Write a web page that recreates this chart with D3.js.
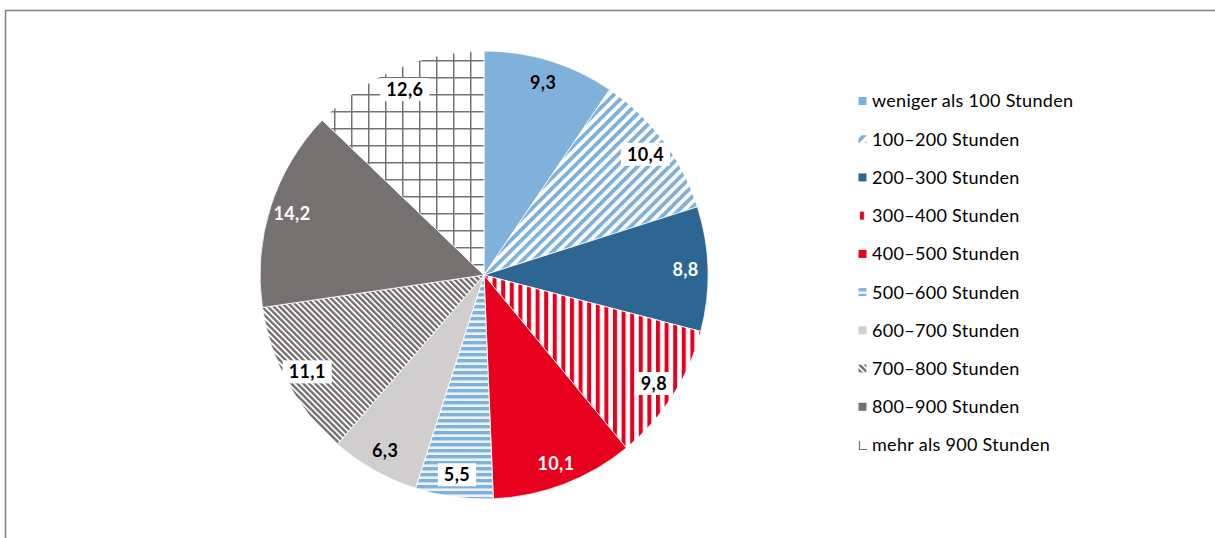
<!DOCTYPE html>
<html><head><meta charset="utf-8">
<script src="https://cdn.jsdelivr.net/npm/d3@7"></script>
<style>html,body{margin:0;padding:0;background:#fff;}svg{display:block;font-family:Lato,"Open Sans",sans-serif;}</style>
</head><body>
<script>
const categories = ["weniger als 100 Stunden","100–200 Stunden","200–300 Stunden","300–400 Stunden","400–500 Stunden","500–600 Stunden","600–700 Stunden","700–800 Stunden","800–900 Stunden","mehr als 900 Stunden"];
const values = [9.3,10.4,8.8,9.8,10.1,5.5,6.3,11.1,14.2,12.6];
const valueLabels = ["9,3","10,4","8,8","9,8","10,1","5,5","6,3","11,1","14,2","12,6"];

const W=1215,H=538;
const svg=d3.select("body").append("svg").attr("width",W).attr("height",H);
const defs=svg.append("defs");

const LB="#80b1da",DB="#2d6693",RED="#e8001f",LG="#d0cece",GR="#767171";
function stripe(id,period,band,color,bg,rot){
  const p=defs.append("pattern").attr("id",id).attr("patternUnits","userSpaceOnUse")
    .attr("width",period).attr("height",period).attr("patternTransform",`rotate(${rot})`);
  p.append("rect").attr("width",period).attr("height",period).attr("fill",bg);
  p.append("rect").attr("width",band).attr("height",period).attr("fill",color);
}
stripe("p1",7.5,3.8,LB,"#fff",45);
stripe("p3",8.6,4,RED,"#fff",0);
stripe("p5",6,3.4,LB,"#eaf2fa",90);
stripe("p7",4.2,2.4,GR,"#fff",-45);
{
  const p=defs.append("pattern").attr("id","p9").attr("patternUnits","userSpaceOnUse").attr("width",17).attr("height",17).attr("x",3).attr("y",6);
  p.append("rect").attr("width",17).attr("height",17).attr("fill","#fff");
  p.append("path").attr("d","M0.75,0V17M0,0.75H17").attr("stroke",GR).attr("stroke-width",1.5).attr("fill","none");
}
const fills=[LB,"url(#p1)",DB,"url(#p3)",RED,"url(#p5)",LG,"url(#p7)",GR,"url(#p9)"];
const textColors=["#000","#000","#fff","#000","#fff","#000","#000","#000","#fff","#000"];
const boxed=[false,true,false,true,false,true,false,true,false,true];

// frame
svg.append("rect").attr("x",5.5).attr("y",10.5).attr("width",1400).attr("height",700)
  .attr("fill","none").attr("stroke","#7f7f7f").attr("stroke-width",1.5);

const cx=484,cy=275,R=224;
const pie=d3.pie().sort(null).value(d=>d)(values);
const arc=d3.arc().innerRadius(0).outerRadius(R);
const g=svg.append("g").attr("transform",`translate(${cx},${cy})`);
g.selectAll("path.s").data(pie).join("path").attr("class","s")
  .attr("d",arc).attr("fill",(d,i)=>fills[i]).attr("stroke","#fff").attr("stroke-width",0.8);

const labelArc=d3.arc().innerRadius(R*0.9).outerRadius(R*0.9);
pie.forEach((d,i)=>{
  const [x,y]=labelArc.centroid(d);
  const lg=g.append("g").attr("transform",`translate(${x},${y})`);
  const t=lg.append("text").attr("text-anchor","middle").attr("dy","0.36em")
    .attr("font-size",18).attr("font-weight","bold").attr("letter-spacing",0.4).attr("fill",textColors[i]).text(valueLabels[i]);
  if(boxed[i]){
    const b=t.node().getBBox();
    lg.insert("rect","text").attr("x",b.x-6).attr("y",-11.5).attr("width",b.width+12).attr("height",23).attr("fill","#fff");
  }
});

// legend
const ly=d3.scalePoint().domain(categories).range([101,445]);
const leg=svg.append("g");
categories.forEach((c,i)=>{
  const y=ly(c);
  if(i===9){
    leg.append("path").attr("d",`M859.5,${y-4}V${y+4.5}H867`).attr("stroke",GR).attr("stroke-width",1.2).attr("fill","none");
  } else {
    leg.append("rect").attr("x",858.5).attr("y",y-4).attr("width",8).attr("height",8).attr("fill",fills[i]);
  }
  leg.append("text").attr("x",872).attr("y",y).attr("dy","0.36em").attr("font-size",18).attr("letter-spacing",0.3).attr("fill","#000").text(c);
});
</script>
</body></html>
